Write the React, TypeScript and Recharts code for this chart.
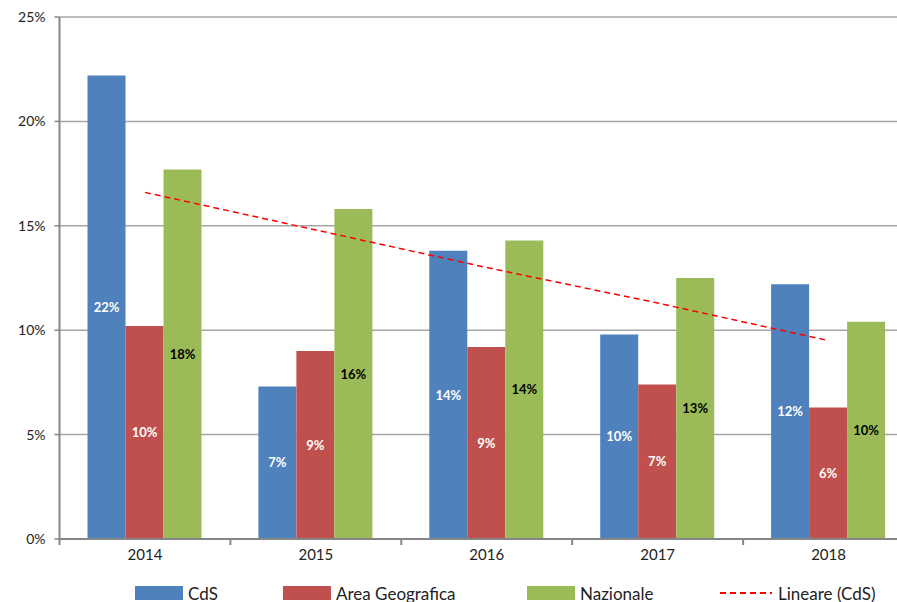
import { ComposedChart, Bar, Line, XAxis, YAxis, CartesianGrid, Legend, LabelList } from 'recharts';

const years = ['2014', '2015', '2016', '2017', '2018'];
const cds = [22.2, 7.3, 13.8, 9.8, 12.2];
const areaGeo = [10.2, 9.0, 9.2, 7.4, 6.3];
const nazionale = [17.7, 15.8, 14.3, 12.5, 10.4];
const lineareCds = [16.6, 14.8, 13.0, 11.3, 9.5];
const yTicks = [0, 5, 10, 15, 20, 25];

const data = years.map((y, i) => ({
  year: y,
  cds: cds[i],
  area: areaGeo[i],
  naz: nazionale[i],
  trend: lineareCds[i],
}));

const FONT = 'Lato, "Open Sans", sans-serif';
const AXIS = '#868686';
const GRID = '#a6a6a6';
const CHART_W = 930;
const CHART_H = 610;
// bottom margin leaves room for the x axis (30) and the legend box (24)
const MARGIN = { top: 17, right: 16, bottom: 17, left: 0 };
const Y_W = 59.5;
const BAND = (CHART_W - MARGIN.left - MARGIN.right - Y_W) / years.length;

const legendItems = [
  { name: 'CdS', color: '#4f81bd', type: 'box', left: 135 },
  { name: 'Area Geografica', color: '#c0504d', type: 'box', left: 283 },
  { name: 'Nazionale', color: '#9bbb59', type: 'box', left: 527 },
  { name: 'Lineare (CdS)', color: '#ff0000', type: 'dash', left: 720 },
];

const YearTick = (props: any) => {
  const { x, y, payload, index } = props;
  return (
    <g>
      <line x1={x - BAND / 2} x2={x - BAND / 2} y1={y} y2={y + 6} stroke={AXIS} strokeWidth={2} />
      {index === years.length - 1 && (
        <line x1={x + BAND / 2} x2={x + BAND / 2} y1={y} y2={y + 6} stroke={AXIS} strokeWidth={2} />
      )}
      <text x={x} y={y + 21} textAnchor="middle" fontSize={15} fill="#222" fontFamily={FONT}>
        {payload.value}
      </text>
    </g>
  );
};

const LegendContent = () => (
  <div style={{ position: 'relative', height: 24, fontFamily: FONT, fontSize: 17, color: '#222' }}>
    {legendItems.map((it) => (
      <div key={it.name} style={{ position: 'absolute', left: it.left, top: 0, display: 'flex', alignItems: 'center', height: 24 }}>
        {it.type === 'box' ? (
          <span style={{ display: 'inline-block', width: 48, height: 14, background: it.color, marginRight: 5 }} />
        ) : (
          <svg width={52} height={4} style={{ marginRight: 6 }}>
            <line x1={0} x2={52} y1={2} y2={2} stroke={it.color} strokeWidth={2} strokeDasharray="6 4" />
          </svg>
        )}
        <span>{it.name}</span>
      </div>
    ))}
  </div>
);

const pct = (v: any) => `${Math.round(Number(v))}%`;

const App = () => {
  return (
    <div style={{ position: 'absolute', left: 0, top: 0, width: 897, height: 602, overflow: 'hidden', background: '#fff' }}>
      <ComposedChart
        width={CHART_W}
        height={CHART_H}
        data={data}
        margin={MARGIN}
        barCategoryGap={28}
        barGap={0}
      >
        <CartesianGrid vertical={false} stroke={GRID} strokeWidth={1.5} />
        <XAxis
          dataKey="year"
          axisLine={{ stroke: AXIS, strokeWidth: 2 }}
          tickLine={false}
          tickSize={0}
          tickMargin={0}
          tick={<YearTick />}
          interval={0}
          height={30}
        />
        <YAxis
          width={Y_W}
          domain={[0, 25]}
          ticks={yTicks}
          tickFormatter={(v) => `${v}%`}
          axisLine={{ stroke: AXIS, strokeWidth: 2 }}
          tickLine={{ stroke: AXIS, strokeWidth: 1.5 }}
          tickSize={5}
          tickMargin={9}
          tick={{ fontSize: 14, fill: '#222', fontFamily: FONT }}
          allowDataOverflow
        />
        <Legend
          content={<LegendContent />}
          wrapperStyle={{ position: 'absolute', left: 0, top: 581, width: CHART_W }}
        />
        <Bar dataKey="cds" name="CdS" fill="#4f81bd" isAnimationActive={false}>
          <LabelList dataKey="cds" position="center" formatter={pct} fill="#fff" fontSize={13} fontWeight="bold" fontFamily={FONT} />
        </Bar>
        <Bar dataKey="area" name="Area Geografica" fill="#c0504d" isAnimationActive={false}>
          <LabelList dataKey="area" position="center" formatter={pct} fill="#fff" fontSize={13} fontWeight="bold" fontFamily={FONT} />
        </Bar>
        <Bar dataKey="naz" name="Nazionale" fill="#9bbb59" isAnimationActive={false}>
          <LabelList dataKey="naz" position="center" formatter={pct} fill="#000" fontSize={13} fontWeight="bold" fontFamily={FONT} />
        </Bar>
        <Line
          dataKey="trend"
          name="Lineare (CdS)"
          stroke="#ff0000"
          strokeWidth={1.5}
          strokeDasharray="6 4"
          dot={false}
          activeDot={false}
          isAnimationActive={false}
        />
      </ComposedChart>
    </div>
  );
};

export default App;
